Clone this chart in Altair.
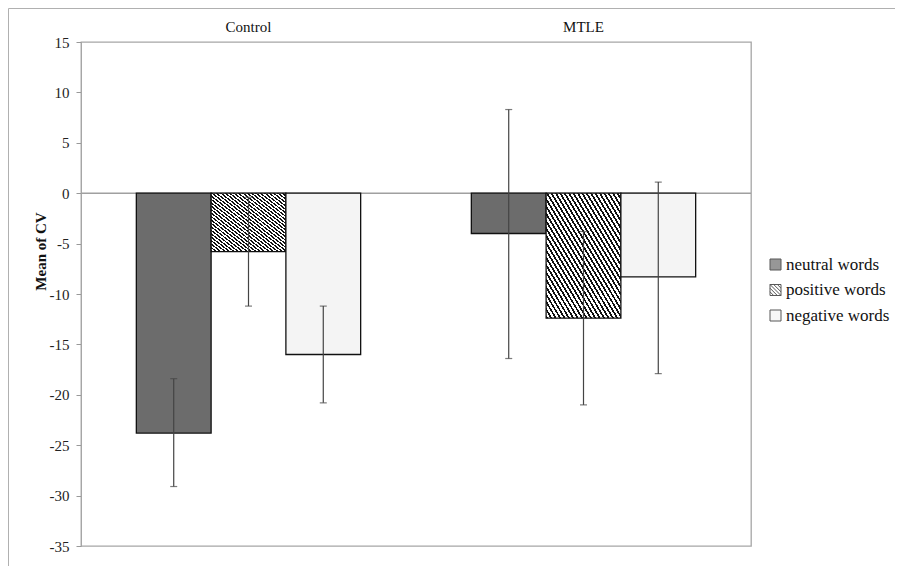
import altair as alt
import pandas as pd

groups = ["Control", "MTLE"]
word_types = ["neutral words", "positive words", "negative words"]
control_mean = [-23.8, -5.8, -16.0]
mtle_mean = [-4.0, -12.4, -8.3]
control_lower = [-29.1, -11.2, -20.8]
control_upper = [-18.4, -0.4, -11.2]
mtle_lower = [-16.4, -21.0, -17.9]
mtle_upper = [8.3, -3.8, 1.1]
y_tick_values = [-35, -30, -25, -20, -15, -10, -5, 0, 5, 10, 15]

rows = []
for g, means, lows, highs in [
    ("Control", control_mean, control_lower, control_upper),
    ("MTLE", mtle_mean, mtle_lower, mtle_upper),
]:
    for t, m, lo, hi in zip(word_types, means, lows, highs):
        rows.append({"group": g, "type": t, "mean": m, "lo": lo, "hi": hi})
df = pd.DataFrame(rows)

FONT = "Liberation Serif"


def hatch(periods, dark_frac=0.45, dark="#111111", light="#ffffff"):
    stops = []
    for i in range(periods):
        a = i / periods
        b = (i + dark_frac) / periods
        c = (i + 1) / periods
        stops += [
            {"offset": a, "color": dark},
            {"offset": b, "color": dark},
            {"offset": b, "color": light},
            {"offset": c, "color": light},
        ]
    return {"gradient": "linear", "x1": 0, "y1": 1, "x2": 1, "y2": 0, "stops": stops}


bar_hatch = hatch(34)

hatched_square = (
    "M-1,-1H1V1H-1Z M-1,-1L1,1 M-0.33,-1L1,0.33 M0.33,-1L1,-0.33 "
    "M-1,-0.33L0.33,1 M-1,0.33L-0.33,1"
)

color_scale = alt.Scale(domain=word_types, range=["#6c6c6c", "#ffffff", "#f4f4f4"])
shape_scale = alt.Scale(domain=word_types, range=["square", hatched_square, "square"])

x_enc = alt.X(
    "group:N",
    sort=groups,
    scale=alt.Scale(domain=groups, paddingInner=0, paddingOuter=0),
    axis=alt.Axis(
        orient="top", title=None, ticks=False, domain=False, labelAngle=0,
        labelFont=FONT, labelFontSize=15, labelColor="#111", labelPadding=8,
    ),
)
xoff = alt.XOffset(
    "type:N", sort=word_types,
    scale=alt.Scale(domain=word_types, paddingInner=0, paddingOuter=0.74),
)
y_scale = alt.Scale(domain=[-35, 15], nice=False)
y_axis = alt.Axis(
    values=y_tick_values, labelExpr="datum.value + ''",
    title="Mean of CV", titleFont=FONT, titleFontWeight="bold",
    titleFontSize=15, titleColor="#111", titleX=-33, titleY=209,
    labelFont=FONT, labelFontSize=15, labelColor="#222", labelPadding=7,
    tickSize=5, tickColor="#999", domainColor="#a6a6a6", grid=False,
)

leg = alt.Legend(title=None, orient="none", legendX=686, legendY=214,
                 labelFont=FONT, labelFontSize=17)

base = alt.Chart(df)

frame = alt.Chart(pd.DataFrame({"k": [0]})).mark_rect(
    fill="transparent", stroke="#b0b0b0", strokeWidth=1
).encode(x=alt.value(-72.5), x2=alt.value(900), y=alt.value(-33.5), y2=alt.value(700))

zero_line = alt.Chart(pd.DataFrame({"v": [0]})).mark_rule(
    color="#a0a0a0", strokeWidth=1.5
).encode(y=alt.Y("v:Q", scale=y_scale, axis=y_axis))

bars = base.mark_bar(stroke="#111", strokeWidth=1.3).encode(
    x=x_enc,
    xOffset=xoff,
    y=alt.Y("mean:Q", scale=y_scale, axis=y_axis),
    y2=alt.datum(0),
    color=alt.condition(
        alt.datum.type == "positive words",
        alt.value(bar_hatch),
        alt.Color("type:N", scale=color_scale, legend=leg),
    ),
)

err = base.mark_rule(color="#444", strokeWidth=1.2).encode(
    x=x_enc, xOffset=xoff, y=alt.Y("lo:Q", scale=y_scale), y2="hi:Q"
)
cap_lo = base.mark_tick(color="#444", thickness=1.2, size=7).encode(
    x=x_enc, xOffset=xoff, y=alt.Y("lo:Q", scale=y_scale)
)
cap_hi = base.mark_tick(color="#444", thickness=1.2, size=7).encode(
    x=x_enc, xOffset=xoff, y=alt.Y("hi:Q", scale=y_scale)
)

legend_layer = base.mark_point(filled=True, size=0, stroke="#111", strokeWidth=1).encode(
    x=x_enc,
    xOffset=xoff,
    y=alt.Y("mean:Q", scale=y_scale),
    color=alt.Color("type:N", scale=color_scale, legend=leg),
    shape=alt.Shape("type:N", scale=shape_scale, legend=leg),
)

chart = (
    alt.layer(frame, zero_line, bars, err, cap_lo, cap_hi, legend_layer)
    .properties(
        width=670, height=504, autosize="none",
        padding={"left": 73, "top": 34, "right": 144, "bottom": 20},
        background="white",
    )
    .configure(font=FONT)
    .configure_view(stroke="#a6a6a6", strokeWidth=1.3)
    .configure_legend(
        padding=0, symbolSize=121, symbolStrokeColor="#111", symbolStrokeWidth=1,
        labelFont=FONT, labelFontSize=17, labelColor="#111",
        labelOffset=2, rowPadding=7.5,
    )
)

chart.save("out.html", embed_options={"renderer": "svg", "actions": False})
